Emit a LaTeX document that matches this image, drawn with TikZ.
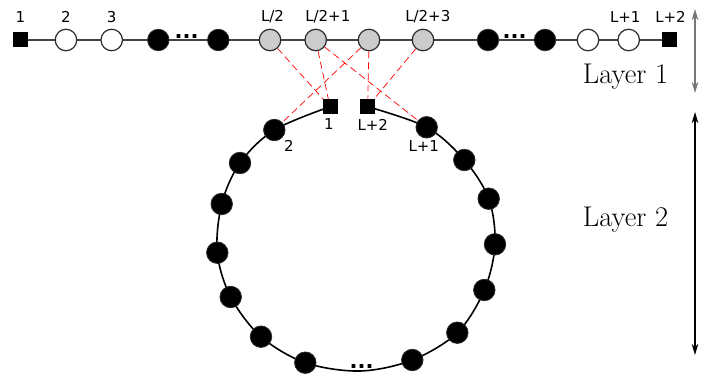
\documentclass[tikz,border=0pt]{standalone}
\usepackage{fontspec}
\newfontfamily\lblfont{DejaVu Sans}
\usetikzlibrary{arrows.meta}
\definecolor{edgegray}{HTML}{444444}
\definecolor{nodegray}{HTML}{CCCCCC}
\definecolor{outl}{HTML}{2A2A2A}
\definecolor{arrgray}{HTML}{777777}
\tikzset{
  sqnode/.style={rectangle,fill=black,draw=none,minimum size=15pt,inner sep=0pt},
  wnode/.style={circle,fill=white,draw=outl,line width=1.2pt,minimum size=21.5pt,inner sep=0pt},
  bnode/.style={circle,fill=black,draw=outl,line width=0.8pt,minimum size=21.5pt,inner sep=0pt},
  gnode/.style={circle,fill=nodegray,draw=outl,line width=1.2pt,minimum size=21.5pt,inner sep=0pt},
  lbl/.style={font=\lblfont\fontsize{15}{17}\selectfont,inner sep=0pt},
  dotstxt/.style={font=\lblfont\bfseries\fontsize{21}{23}\selectfont,inner sep=0pt,anchor=base},
  layertxt/.style={font=\fontsize{28.5}{30}\selectfont,inner sep=0pt},
  rowline/.style={draw=edgegray,line width=1.2pt},
  ringline/.style={draw=black,line width=1.6pt},
  redlink/.style={draw=red,line width=0.7pt,dash pattern=on 7pt off 4pt},
  layerarrow/.style={line width=1.1pt,{Stealth[length=11pt,width=6.5pt,inset=3pt]}-{Stealth[length=11pt,width=6.5pt,inset=3pt]}}
}
\begin{document}
\begin{tikzpicture}[x=1pt,y=-1pt]
\useasboundingbox (0,0) rectangle (718,377);
% ---- coordinates of layer 1
\coordinate (t1) at (20.5,40);
\coordinate (t2) at (66,40);
\coordinate (t3) at (111.7,40);
\coordinate (t4) at (158.3,40);
\coordinate (t5) at (218.3,40);
\coordinate (t6) at (270,40);
\coordinate (t7) at (315.7,40);
\coordinate (t8) at (369,40);
\coordinate (t9) at (423,40);
\coordinate (t10) at (488,40);
\coordinate (t11) at (545,40);
\coordinate (t12) at (588,40);
\coordinate (t13) at (628.7,40);
\coordinate (t14) at (669.7,40);
% ---- coordinates of layer 2 ring
\coordinate (r1) at (330,106.7);
\coordinate (r2) at (274.3,130);
\coordinate (r3) at (240,163);
\coordinate (r4) at (221.7,204);
\coordinate (r5) at (217.3,252.7);
\coordinate (r6) at (230.7,297);
\coordinate (r7) at (261,336.7);
\coordinate (r8) at (305.3,362.7);
\coordinate (rb) at (360,371);
\coordinate (r9) at (412.3,360);
\coordinate (r10) at (457.3,332.7);
\coordinate (r11) at (484.3,290);
\coordinate (r12) at (495,244.3);
\coordinate (r13) at (488.7,198.7);
\coordinate (r14) at (464.3,160);
\coordinate (r15) at (426.7,127.3);
\coordinate (r16) at (367.7,106.7);
% ---- lines
\draw[rowline] (t1) -- (t14);
\draw[ringline] plot[smooth,tension=0.55] coordinates {(r1) (r2) (r3) (r4) (r5) (r6) (r7) (r8) (rb) (r9) (r10) (r11) (r12) (r13) (r14) (r15) (r16)};
% ---- layer 1 nodes
\node[sqnode] (n1) at (t1) {};
\node[wnode] (n2) at (t2) {};
\node[wnode] (n3) at (t3) {};
\node[bnode] (n4) at (t4) {};
\node[bnode] (n5) at (t5) {};
\node[gnode] (n6) at (t6) {};
\node[gnode] (n7) at (t7) {};
\node[gnode] (n8) at (t8) {};
\node[gnode] (n9) at (t9) {};
\node[bnode] (n10) at (t10) {};
\node[bnode] (n11) at (t11) {};
\node[wnode] (n12) at (t12) {};
\node[wnode] (n13) at (t13) {};
\node[sqnode] (n14) at (t14) {};
\node[dotstxt] (d1) at (186.7,38.6) {...};
\node[dotstxt] (d2) at (514.7,38.6) {...};
% ---- layer 1 labels
\node[lbl] (l1) at (20.5,16.7) {1};
\node[lbl] (l2) at (66,16.7) {2};
\node[lbl] (l3) at (111.7,16.7) {3};
\node[lbl] (l6) at (272.5,16.7) {L/2};
\node[lbl] (l7) at (327.8,16.7) {L/2+1};
\node[lbl] (l9) at (427.8,16.7) {L/2+3};
\node[lbl] (l13) at (625.3,16.7) {L+1};
\node[lbl] (l14) at (670.5,16.7) {L+2};
% ---- layer 2 nodes
\node[sqnode] (m1) at (r1) {};
\node[bnode] (m2) at (r2) {};
\node[bnode] (m3) at (r3) {};
\node[bnode] (m4) at (r4) {};
\node[bnode] (m5) at (r5) {};
\node[bnode] (m6) at (r6) {};
\node[bnode] (m7) at (r7) {};
\node[bnode] (m8) at (r8) {};
\node[bnode] (m9) at (r9) {};
\node[bnode] (m10) at (r10) {};
\node[bnode] (m11) at (r11) {};
\node[bnode] (m12) at (r12) {};
\node[bnode] (m13) at (r13) {};
\node[bnode] (m14) at (r14) {};
\node[bnode] (m15) at (r15) {};
\node[sqnode] (m16) at (r16) {};
\node[dotstxt] (d3) at (361.7,368.5) {...};
% ---- layer 2 labels
\node[lbl] (k1) at (328.8,124.5) {1};
\node[lbl] (k16) at (372.8,124.5) {L+2};
\node[lbl] (k2) at (288.8,146) {2};
\node[lbl] (k15) at (423.8,146.5) {L+1};
% ---- inter-layer links
\draw[redlink] (n6) -- (m1);
\draw[redlink] (n7) -- (m1);
\draw[redlink] (n7) -- (m15);
\draw[redlink] (n8) -- (m16);
\draw[redlink] (n8) -- (m2);
\draw[redlink] (n9) -- (m16);
% ---- layer markers
\coordinate (a1) at (695,9);
\coordinate (a2) at (695,93);
\coordinate (b1) at (695,112);
\coordinate (b2) at (695,355);
\draw[layerarrow,draw=arrgray,fill=arrgray] (a1) -- (a2);
\draw[layerarrow,draw=black] (b1) -- (b2);
\node[layertxt] (L1) at (625.5,76.7) {Layer 1};
\node[layertxt] (L2) at (625.5,220) {Layer 2};
\end{tikzpicture}
\end{document}
